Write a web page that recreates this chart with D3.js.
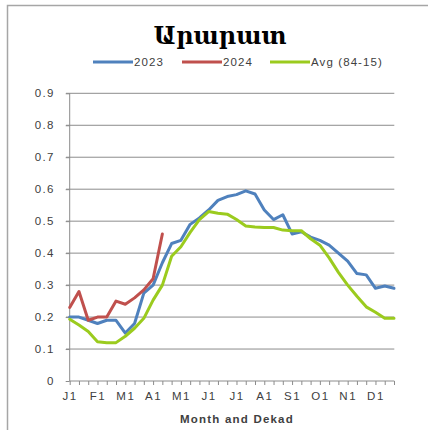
<!DOCTYPE html>
<html>
<head>
<meta charset="utf-8">
<script src="https://cdn.jsdelivr.net/npm/d3@7"></script>
<style>
  body { margin: 0; background: #fff; }
  svg { display: block; }
</style>
</head>
<body>
<div id="chart"></div>
<script>
// dekads: month initial + dekad number
const months = ["J", "F", "M", "A", "M", "J", "J", "A", "S", "O", "N", "D"];
const dekads = [];
months.forEach((m, mi) => [1, 2, 3].forEach(d => dekads.push(mi + ":" + m + d)));

const yTicks = [0, 0.1, 0.2, 0.3, 0.4, 0.5, 0.6, 0.7, 0.8, 0.9];

const values2023 = [0.20, 0.20, 0.19, 0.18, 0.19, 0.19, 0.15, 0.18, 0.275, 0.30, 0.37, 0.43,
                    0.44, 0.49, 0.51, 0.535, 0.565, 0.577, 0.583, 0.595, 0.585, 0.535,
                    0.505, 0.52, 0.46, 0.467, 0.45, 0.44, 0.425, 0.40, 0.375, 0.336,
                    0.332, 0.29, 0.297, 0.29];
const values2024 = [0.23, 0.28, 0.19, 0.20, 0.20, 0.25, 0.24, 0.26, 0.285, 0.32, 0.46];
const valuesAvg = [0.193, 0.175, 0.155, 0.123, 0.12, 0.12, 0.14, 0.165, 0.196, 0.253, 0.30, 0.39,
                   0.42, 0.465, 0.505, 0.53, 0.525, 0.522, 0.505, 0.485, 0.482, 0.48,
                   0.48, 0.472, 0.47, 0.47, 0.445, 0.425, 0.385, 0.34, 0.30, 0.265,
                   0.232, 0.215, 0.196, 0.196];

const seriesNames = ["2023", "2024", "Avg (84-15)"];
const seriesColors = ["#4f81bd", "#c0504d", "#9bcb1e"];

const width = 428;
const height = 430;
const font = "'Liberation Sans', Arial, sans-serif";

const svg = d3.select("#chart").append("svg")
  .attr("width", width)
  .attr("height", height);

// chart frame (left and top edges visible)
svg.append("path")
  .attr("d", "M7.5,430 V5.5 H428")
  .attr("fill", "none")
  .attr("stroke", "#a6a6a6")
  .attr("stroke-width", 1.5);

const x = d3.scalePoint()
  .domain(dekads)
  .range([69.7, 394]);

const y = d3.scaleLinear()
  .domain([0, 0.9])
  .range([381, 93.3]);

// gridlines
svg.append("g")
  .selectAll("line")
  .data(yTicks.filter(d => d > 0))
  .join("line")
  .attr("x1", 66)
  .attr("x2", 394.3)
  .attr("y1", d => y(d))
  .attr("y2", d => y(d))
  .attr("stroke", "#8c8c8c")
  .attr("stroke-width", 1);

// y axis
const yAxis = svg.append("g")
  .attr("transform", "translate(69.7,0)")
  .call(d3.axisLeft(y).tickValues(yTicks).tickSize(4).tickPadding(11)
    .tickFormat(d => d === 0 ? "0" : d3.format(".1f")(d)));
yAxis.select(".domain").attr("stroke", "#8c8c8c").attr("d", "M0,93.3V381");
yAxis.selectAll(".tick line").attr("stroke", "#8c8c8c");
yAxis.selectAll("text")
  .attr("fill", "#404040")
  .style("font-family", font)
  .style("font-size", "11.5px")
  .style("letter-spacing", "1.3px");

// x axis
const xAxis = svg.append("g")
  .attr("transform", "translate(0,381)")
  .call(d3.axisBottom(x).tickSize(4).tickPadding(7)
    .tickFormat((d, i) => i % 3 === 0 ? d.split(":")[1] : ""));
xAxis.select(".domain").attr("stroke", "#8c8c8c").attr("d", "M69.7,0H394.3");
xAxis.selectAll(".tick line").attr("stroke", "#8c8c8c");
xAxis.selectAll("text")
  .attr("fill", "#404040")
  .style("font-family", font)
  .style("font-size", "11.5px")
  .style("letter-spacing", "1.5px");

svg.append("text")
  .attr("x", 237)
  .attr("y", 423)
  .attr("text-anchor", "middle")
  .attr("fill", "#404040")
  .style("font-family", font)
  .style("font-size", "11.5px")
  .style("font-weight", "bold")
  .style("letter-spacing", "1.2px")
  .text("Month and Dekad");

// series lines
const line = d3.line()
  .x((d, i) => x(dekads[i]))
  .y(d => y(d));

[values2023, values2024, valuesAvg].forEach((vals, k) => {
  svg.append("path")
    .datum(vals)
    .attr("fill", "none")
    .attr("stroke", seriesColors[k])
    .attr("stroke-width", 3)
    .attr("stroke-linejoin", "round")
    .attr("stroke-linecap", "round")
    .attr("d", line);
});

// title
svg.append("text")
  .attr("x", 220)
  .attr("y", 44)
  .attr("text-anchor", "middle")
  .attr("fill", "#000")
  .style("font-family", "'DejaVu Serif', serif")
  .style("font-size", "24px")
  .style("font-weight", "bold")
  .text("Արարատ");

// legend
const legendX = [93, 182, 270];
const legend = svg.append("g");
seriesNames.forEach((name, k) => {
  legend.append("line")
    .attr("x1", legendX[k])
    .attr("x2", legendX[k] + 40)
    .attr("y1", 62)
    .attr("y2", 62)
    .attr("stroke", seriesColors[k])
    .attr("stroke-width", 3);
  legend.append("text")
    .attr("x", legendX[k] + 41)
    .attr("y", 66)
    .attr("fill", "#404040")
    .style("font-family", font)
    .style("font-size", "11.5px")
    .style("letter-spacing", "1.1px")
    .text(name);
});
</script>
</body>
</html>
